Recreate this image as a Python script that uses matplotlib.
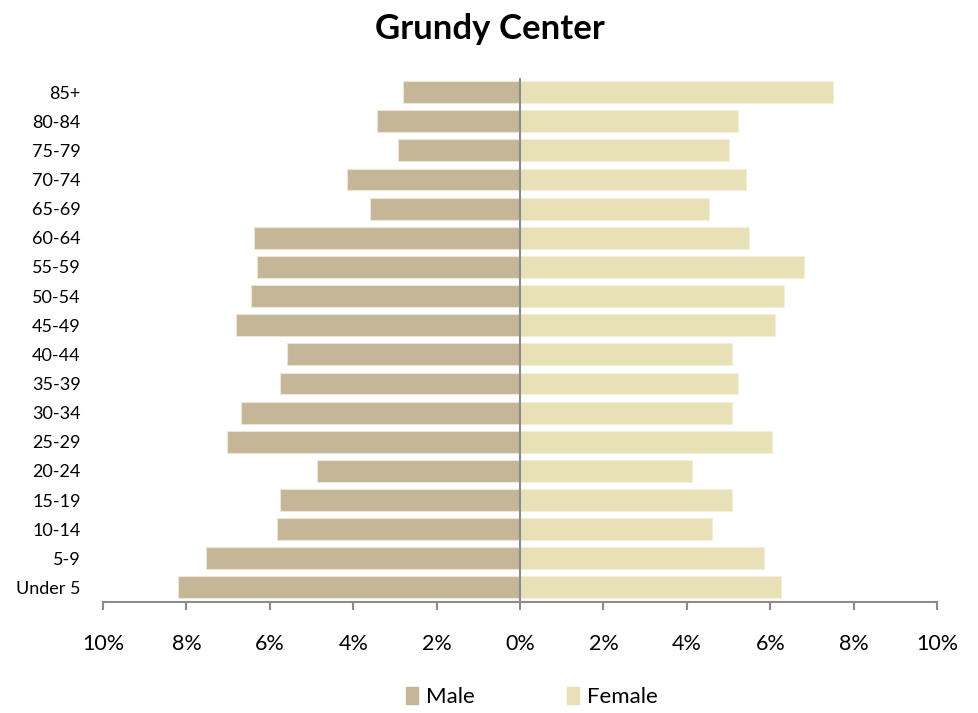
import numpy as np
import matplotlib.pyplot as plt
from matplotlib.patches import Patch

plt.rcParams['font.family'] = ['Lato', 'DejaVu Sans']

age_groups = ['Under 5', '5-9', '10-14', '15-19', '20-24', '25-29', '30-34', '35-39',
              '40-44', '45-49', '50-54', '55-59', '60-64', '65-69', '70-74', '75-79',
              '80-84', '85+']
male = [8.20, 7.53, 5.83, 5.76, 4.87, 7.03, 6.69, 5.76,
        5.59, 6.81, 6.45, 6.31, 6.38, 3.60, 4.15, 2.93, 3.43, 2.81]
female = [6.26, 5.85, 4.60, 5.08, 4.12, 6.04, 5.08, 5.23,
          5.08, 6.12, 6.33, 6.81, 5.49, 4.53, 5.42, 5.01, 5.23, 7.51]
xticks = [-10, -8, -6, -4, -2, 0, 2, 4, 6, 8, 10]

male_color = '#C4B696'
female_color = '#E8E1B7'
grey = '#8C8C8C'

fig = plt.figure(figsize=(9.79, 7.13), dpi=100)
ax = fig.add_axes([0.1052, 0.1557, 0.852, 0.7356])

y = np.arange(len(age_groups))
ax.barh(y, -np.array(male), height=0.75, color=male_color, edgecolor='#ECE6D8', linewidth=0.8)
ax.barh(y, female, height=0.75, color=female_color, edgecolor='#F3EFD9', linewidth=0.8)

ax.set_xlim(-10, 10)
ax.set_ylim(-0.5, len(age_groups) - 0.5)
ax.axvline(0, color=grey, linewidth=1.5, zorder=3)

for s in ['top', 'right', 'left']:
    ax.spines[s].set_visible(False)
ax.spines['bottom'].set_color(grey)
ax.spines['bottom'].set_linewidth(1.5)

ax.set_xticks(xticks)
ax.set_xticklabels([f'{abs(v)}%' for v in xticks], fontsize=15.5)
ax.tick_params(axis='x', direction='out', length=6, width=1.5, color=grey, pad=17)
ax.set_yticks(y)
ax.set_yticklabels(age_groups, fontsize=13)
ax.tick_params(axis='y', length=0, pad=16)

fig.suptitle('Grundy Center', fontsize=25, fontweight='bold', y=0.982)

handles = [Patch(color=male_color, label='Male'), Patch(color=female_color, label='Female')]
fig.legend(handles=handles, loc='center', bbox_to_anchor=(0.543, 0.022), ncol=2,
           frameon=False, fontsize=16, handlelength=0.55, handleheight=0.8,
           columnspacing=4.15, handletextpad=0.35)

fig.savefig('out.png', dpi=100)
